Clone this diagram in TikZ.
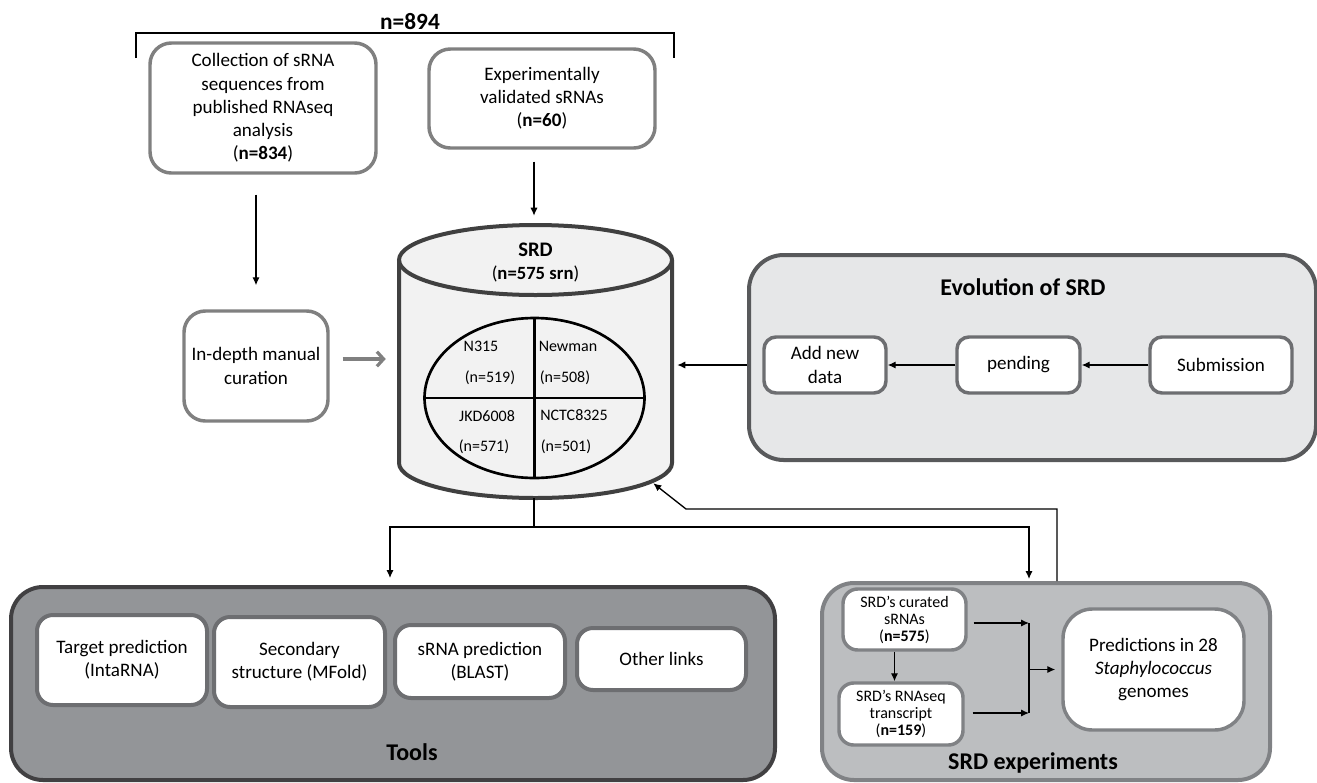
\documentclass[tikz,border=0pt]{standalone}
\usepackage{fontspec}
\setmainfont{Carlito}
\usetikzlibrary{arrows.meta,calc}
\definecolor{boxgray}{HTML}{808080}
\definecolor{cylline}{HTML}{404040}
\definecolor{cylfill}{HTML}{F2F2F2}
\definecolor{evofill}{HTML}{E6E7E8}
\definecolor{evoline}{HTML}{58595B}
\definecolor{evoinner}{HTML}{6D6E71}
\definecolor{toolfill}{HTML}{939598}
\definecolor{toolline}{HTML}{414042}
\definecolor{toolinner}{HTML}{6D6E71}
\definecolor{expfill}{HTML}{BCBEC0}
\definecolor{expline}{HTML}{808285}
\begin{document}
\begin{tikzpicture}[x=0.75pt,y=0.75pt,
  every node/.style={inner sep=0pt},
  wh/.style 2 args={minimum width=#1*0.75pt, minimum height=#2*0.75pt},
  txt/.style={font=\fontsize{14.3}{17.4}\selectfont, align=center},
  smalltxt/.style={font=\fontsize{12}{12.75}\selectfont, align=center},
  celltxt/.style={font=\fontsize{12}{14}\selectfont},
  title/.style={font=\fontsize{18}{22}\selectfont\bfseries},
  topbox/.style={txt, draw=boxgray, line width=2.6pt, fill=white, rounded corners=16pt},
  evobox/.style={txt, draw=evoinner, line width=2.6pt, fill=white, rounded corners=9pt},
  toolbox/.style={txt, draw=toolinner, line width=3pt, fill=white, rounded corners=12pt},
  expbox/.style={draw=expline, line width=2.6pt, fill=white, rounded corners=11pt},
  arr/.style={-{Latex[length=6pt,width=5.5pt]}, line width=1pt},
  grayarr/.style={-{Straight Barb[length=5pt,width=11pt]}, draw=boxgray, line width=2.4pt},
  cyl/.style={draw=cylline, line width=3pt},
]
\useasboundingbox (0,0) rectangle (1317,-782);

% ---------- top ----------
\node[font=\fontsize{17.5}{20}\selectfont\bfseries] (total) at (410,-22) {n=894};
\draw[line width=1.1pt] (136,-58) -- (136,-33) -- (674,-33) -- (674,-58);

\node[topbox, wh={226}{130}] (coll) at (263,-108)
  {Collection of sRNA\\sequences from\\published RNAseq\\analysis\\(\textbf{n=834})};
\node[topbox, wh={226}{99}] (exper) at (542,-98.5)
  {Experimentally\\validated sRNAs\\(\textbf{n=60})};
\node[topbox, wh={144}{110}] (cur) at (256,-366) {In-depth manual\\curation};

% ---------- cylinder ----------
\node[wh={273}{273}] (srd) at (535.5,-361.5) {};
\fill[cylfill] (399,-260) -- (399,-463) arc[start angle=180,end angle=360,x radius=136.5,y radius=35]
  -- (672,-260) arc[start angle=0,end angle=180,x radius=136.5,y radius=35] -- cycle;
\draw[cyl] (399,-260) -- (399,-463) arc[start angle=180,end angle=360,x radius=136.5,y radius=35] -- (672,-260);
\draw[cyl] (535.5,-260) ellipse [x radius=136.5, y radius=35];
\node[font=\fontsize{15.5}{18}\selectfont\bfseries] (srdt) at (535.5,-250) {SRD};
\node[font=\fontsize{14}{16}\selectfont] (srdn) at (535.5,-274) {(\textbf{n=575 srn})};

\draw[line width=2pt] (534.5,-398) ellipse [x radius=110, y radius=80];
\draw[line width=2pt] (534.5,-318) -- (534.5,-478);
\draw[line width=2pt] (424.5,-398) -- (644.5,-398);
\node[celltxt] (s1) at (481,-346) {N315};
\node[celltxt] (s1n) at (490,-378) {(n=519)};
\node[celltxt] (s2) at (568,-346) {Newman};
\node[celltxt] (s2n) at (565,-378) {(n=508)};
\node[celltxt] (s3) at (487,-416) {JKD6008};
\node[celltxt] (s3n) at (484,-447) {(n=571)};
\node[celltxt] (s4) at (574,-415) {NCTC8325};
\node[celltxt] (s4n) at (566,-447) {(n=501)};

% ---------- evolution ----------
\node[draw=evoline, fill=evofill, line width=3pt, rounded corners=26pt, wh={567}{205}] (evo) at (1032.5,-357.5) {};
\node[title] (evot) at (1023,-287) {Evolution of SRD};
\node[evobox, wh={122}{56}] (addnew) at (825,-365) {Add new\\data};
\node[evobox, wh={123}{56}] (pending) at (1018.5,-365) {pending};
\node[evobox, wh={142}{56}] (subm) at (1221,-365) {Submission};
\draw[arr] (subm.west) -- (pending.east);
\draw[arr] (pending.west) -- (addnew.east);

% ---------- tools ----------
\node[draw=toolline, fill=toolfill, line width=3pt, rounded corners=24pt, wh={764}{193}] (tools) at (393,-683.5) {};
\node[title] (toolst) at (412,-752) {Tools};
\node[toolbox, wh={170}{90}] (t1) at (122,-660) {Target prediction\\(IntaRNA)};
\node[toolbox, wh={171}{90}] (t2) at (299.5,-662) {Secondary\\structure (MFold)};
\node[toolbox, wh={170}{73}] (t3) at (480,-661.5) {sRNA prediction\\(BLAST)};
\node[toolbox, wh={169}{62}] (t4) at (661.5,-659) {Other links};

% ---------- experiments ----------
\node[draw=expline, fill=expfill, line width=3pt, rounded corners=24pt, wh={448}{197}] (exps) at (1046,-681.5) {};
\node[title] (expst) at (1033,-763) {SRD experiments};
\node[expbox, smalltxt, wh={123}{61}] (cur2) at (904.5,-619.5) {SRD’s curated\\sRNAs\\(\textbf{n=575})};
\node[expbox, smalltxt, wh={124}{62}] (rnaseq) at (901,-714) {SRD’s RNAseq\\transcript\\(\textbf{n=159})};
\node[expbox, txt, rounded corners=22pt, wh={181}{121}] (pred) at (1153.5,-669.5)
  {Predictions in 28\\\textit{Staphylococcus}\\genomes};
\coordinate (jt) at (1029,-623);
\coordinate (jb) at (1029,-713);
\draw[line width=1pt] (jt) -- (jb);
\draw[arr] ($(cur2.east |- jt)+(6,0)$) -- (jt);
\draw[arr] ($(rnaseq.east |- jb)+(8,0)$) -- (jb);
\draw[arr] (jt |- pred.west) -- ($(pred.west)+(-6,0)$);
\draw[arr] ($(cur2.south)+(-10,0)$) -- ($(rnaseq.north)+(-6.5,0)$);

% ---------- connectors ----------
\draw[arr] ($(coll.south -| cur.north)+(0,-20)$) -- ($(cur.north)+(0,24)$);
\draw[arr] ($(exper.south -| srd.north)+(-1.5,-12)$) -- ($(srd.north)+(-1.5,9)$);
\draw[grayarr] ($(cur.east)+(13,7)$) -- ($(srd.west |- cur.east)+(-13,7)$);
\draw[arr] (addnew.west -| evo.west) -- ($(addnew.west -| srd.east)+(5,0)$);
\coordinate (br) at (534,-527);
\draw[line width=1pt] ($(srd.south)+(-1.5,0)$) -- (br);
\draw[arr] (br) -| ($(tools.north)+(-3,7)$);
\draw[arr] (br) -| ($(exps.north)+(-17,2)$);
\coordinate (ret) at (686,-509);
\draw[arr] ($(exps.north)+(11,0)$) |- (ret) -- ($(srd.south east)+(-19,15)$);
\end{tikzpicture}
\end{document}
